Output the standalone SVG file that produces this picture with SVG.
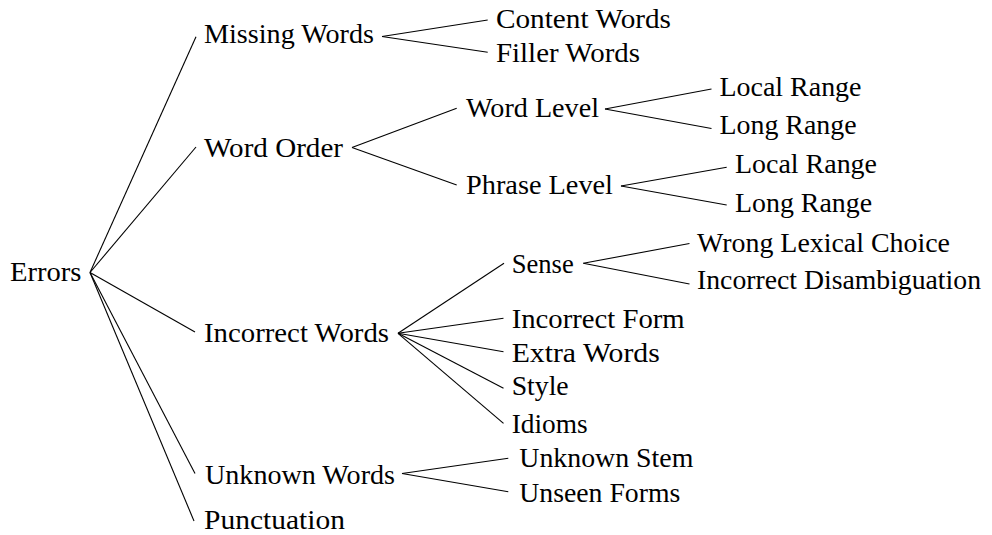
<svg xmlns="http://www.w3.org/2000/svg" width="992" height="535" viewBox="0 0 992 535">
<style>
.t text{font-size:26.5px;fill:#000}
.e line{stroke:#000;stroke-width:1.1;fill:none}
</style>
<rect width="992" height="535" fill="#fff"/>
<g class="e" id="connectors">
<line x1="90" y1="272.5" x2="196" y2="36.7"/>
<line x1="90" y1="272.5" x2="196" y2="147"/>
<line x1="90" y1="272.5" x2="195" y2="332"/>
<line x1="90" y1="272.5" x2="195" y2="473.5"/>
<line x1="90" y1="272.5" x2="194" y2="521"/>
<line x1="382" y1="36.5" x2="487.7" y2="20"/>
<line x1="382" y1="36.5" x2="487.7" y2="52.3"/>
<line x1="352" y1="147.5" x2="456.7" y2="108.3"/>
<line x1="352" y1="147.5" x2="456.7" y2="185"/>
<line x1="605" y1="109" x2="711.5" y2="89"/>
<line x1="605" y1="109" x2="711.5" y2="128.5"/>
<line x1="621" y1="186" x2="726.7" y2="167.3"/>
<line x1="621" y1="186" x2="726.7" y2="205"/>
<line x1="398" y1="333.3" x2="504" y2="263.3"/>
<line x1="398" y1="333.3" x2="503.5" y2="318.3"/>
<line x1="398" y1="333.3" x2="503.5" y2="351.7"/>
<line x1="398" y1="333.3" x2="503.5" y2="388.3"/>
<line x1="398" y1="333.3" x2="503.5" y2="423.3"/>
<line x1="583.3" y1="263.3" x2="689.5" y2="243.5"/>
<line x1="583.3" y1="263.3" x2="689.5" y2="284"/>
<line x1="402" y1="473.5" x2="508.3" y2="458.3"/>
<line x1="402" y1="473.5" x2="508.3" y2="491.7"/>
</g>
<g class="t" font-family="'Liberation Serif', 'Times New Roman', serif">
<g id="errors"><text x="10" y="281" textLength="71.5" lengthAdjust="spacingAndGlyphs">Errors</text></g>
<g id="missing-words"><text x="204" y="43.3" textLength="170" lengthAdjust="spacingAndGlyphs">Missing Words</text></g>
<g id="content-words"><text x="496" y="28.3" textLength="175" lengthAdjust="spacingAndGlyphs">Content Words</text></g>
<g id="filler-words"><text x="496" y="62.3" textLength="144" lengthAdjust="spacingAndGlyphs">Filler Words</text></g>
<g id="word-order"><text x="204" y="157" textLength="139" lengthAdjust="spacingAndGlyphs">Word Order</text></g>
<g id="word-level"><text x="466" y="117.3" textLength="133" lengthAdjust="spacingAndGlyphs">Word Level</text></g>
<g id="local-range-1"><text x="719.5" y="96" textLength="142" lengthAdjust="spacingAndGlyphs">Local Range</text></g>
<g id="long-range-1"><text x="719.5" y="134" textLength="137" lengthAdjust="spacingAndGlyphs">Long Range</text></g>
<g id="phrase-level"><text x="466" y="194" textLength="147" lengthAdjust="spacingAndGlyphs">Phrase Level</text></g>
<g id="local-range-2"><text x="735" y="172.7" textLength="142" lengthAdjust="spacingAndGlyphs">Local Range</text></g>
<g id="long-range-2"><text x="735" y="211.7" textLength="137" lengthAdjust="spacingAndGlyphs">Long Range</text></g>
<g id="incorrect-words"><text x="204" y="341.7" textLength="185" lengthAdjust="spacingAndGlyphs">Incorrect Words</text></g>
<g id="sense"><text x="511.7" y="273.3" textLength="62" lengthAdjust="spacingAndGlyphs">Sense</text></g>
<g id="wrong-lexical-choice"><text x="697" y="251.7" textLength="253" lengthAdjust="spacingAndGlyphs">Wrong Lexical Choice</text></g>
<g id="incorrect-disambiguation"><text x="697" y="289" textLength="284" lengthAdjust="spacingAndGlyphs">Incorrect Disambiguation</text></g>
<g id="incorrect-form"><text x="511.7" y="327.7" textLength="173" lengthAdjust="spacingAndGlyphs">Incorrect Form</text></g>
<g id="extra-words"><text x="511.7" y="361.7" textLength="148" lengthAdjust="spacingAndGlyphs">Extra Words</text></g>
<g id="style"><text x="511.7" y="395" textLength="57" lengthAdjust="spacingAndGlyphs">Style</text></g>
<g id="idioms"><text x="511.7" y="433.3" textLength="76" lengthAdjust="spacingAndGlyphs">Idioms</text></g>
<g id="unknown-words"><text x="205" y="483.5" textLength="190" lengthAdjust="spacingAndGlyphs">Unknown Words</text></g>
<g id="unknown-stem"><text x="519.3" y="466.7" textLength="174" lengthAdjust="spacingAndGlyphs">Unknown Stem</text></g>
<g id="unseen-forms"><text x="519.3" y="501.7" textLength="161" lengthAdjust="spacingAndGlyphs">Unseen Forms</text></g>
<g id="punctuation"><text x="204" y="528.5" textLength="141" lengthAdjust="spacingAndGlyphs">Punctuation</text></g>
</g>
</svg>
